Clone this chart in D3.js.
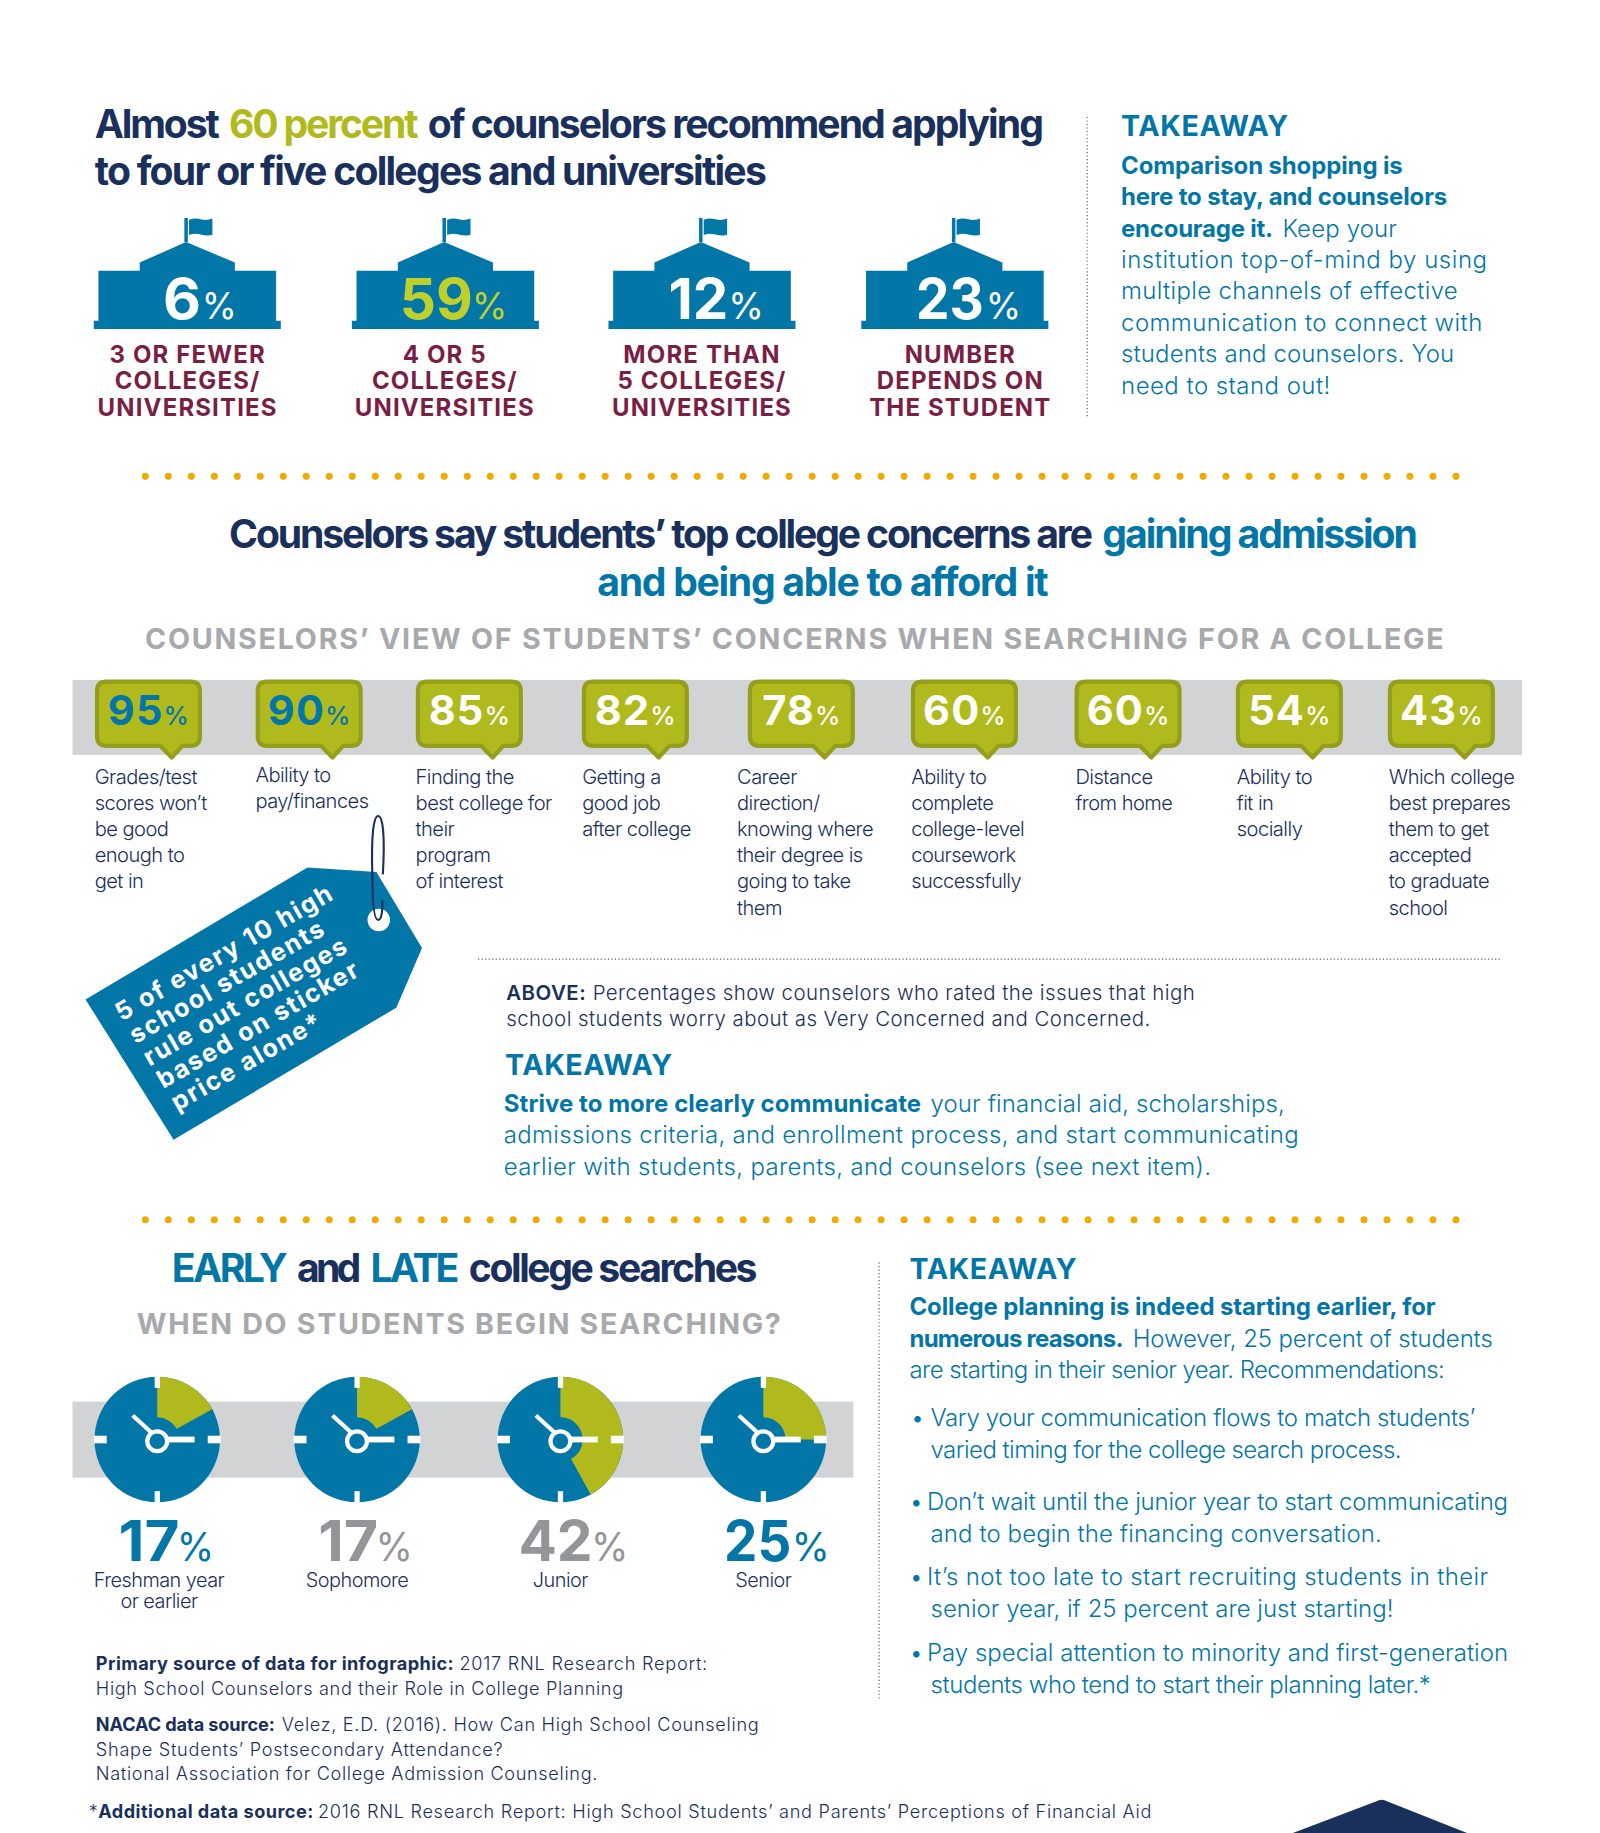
<!DOCTYPE html>
<html><head><meta charset="utf-8">
<script src="https://cdn.jsdelivr.net/npm/d3@7"></script>
<style>html,body{margin:0;background:#fff}svg{display:block}text{font-family:Inter,"Noto Sans",sans-serif;white-space:pre}</style>
</head><body><div id="c"></div>
<script>
// ---------- data ----------
const collegeValues=[6,59,12,23];
const collegeLabels=[["3 OR FEWER","COLLEGES/","UNIVERSITIES"],["4 OR 5","COLLEGES/","UNIVERSITIES"],["MORE THAN","5 COLLEGES/","UNIVERSITIES"],["NUMBER","DEPENDS ON","THE STUDENT"]];
const concernValues=[95,90,85,82,78,60,60,54,43];
const concernLabels=[
 ["Grades/test","scores won’t","be good","enough to","get in"],
 ["Ability to","pay/finances"],
 ["Finding the","best college for","their","program","of interest"],
 ["Getting a","good job","after college"],
 ["Career","direction/","knowing where","their degree is","going to take","them"],
 ["Ability to","complete","college-level","coursework","successfully"],
 ["Distance","from home"],
 ["Ability to","fit in","socially"],
 ["Which college","best prepares","them to get","accepted","to graduate","school"]];
const searchValues=[17,17,42,25];
const searchLabels=[["Freshman year","or earlier"],["Sophomore"],["Junior"],["Senior"]];
const tagLines=["5 of every 10 high","school students","rule out colleges","based on sticker","price alone*"];

// ---------- palette ----------
const NAVY="#1a305c",LIME="#b1ba1d",LIMED="#939f1c",BRIGHT="#bfd02c",BLUE="#0376a8",MAROON="#7b1e45",GRAY="#a7a9ac",GRAY2="#939598",BAND="#d1d3d4",GOLD="#f0ab00";

// ---------- layout scales ----------
const W=1368.7,H=1568;
const svg=d3.select("#c").append("svg").attr("width",1600).attr("height",1833).attr("viewBox",`0 0 ${W} ${H}`).attr("preserveAspectRatio","none");
const collegeIdx=d3.range(collegeValues.length),concernIdx=d3.range(concernValues.length),searchIdx=d3.range(searchValues.length);
const buildingX=d3.scaleOrdinal(collegeIdx,[160.2,381,600.5,816.8]);
const collegeLabelX=d3.scaleOrdinal(collegeIdx,[160.5,380.5,600.5,821.5]);
const collegeNumX=d3.scaleOrdinal(collegeIdx,[[141,170.5,175,200],[343.5,403,406,431.5],[573.3,621.5,625.5,651],[785,840,845.7,871]]);
const bubbleX=d3.scaleOrdinal(concernIdx,[81,218.5,355.5,497.5,639.5,779,919,1057,1187]);
const concernLabelX=d3.scaleOrdinal(concernIdx,[81,218.5,355.5,498,630.5,779.5,920,1058,1188]);
const clockX=d3.scaleOrdinal(searchIdx,[134.5,305.4,479.4,653]);
const searchNumX=d3.scaleOrdinal(searchIdx,[[102.8,152,154.2,180.2],[273.7,322,324.2,350.2],[445,505.5,508.6,534.6],[620.9,675.4,680,706.8]]);
const angle=d3.scaleLinear().domain([0,100]).range([0,2*Math.PI]);

// ---------- helpers ----------
function measure(str,o){
  const t=svg.append("text").text(str).attr("font-size",o.size).attr("font-weight",o.w);
  const n=t.node().getComputedTextLength();t.remove();return n;
}
function lsFor(str,o,target){return (target-measure(str,o))/Math.max(1,str.length-1);}
function seg(x0,x1,y,str,o={}){
  return svg.append("text").attr("x",x0).attr("y",y).text(str)
    .attr("font-size",o.size).attr("font-weight",o.w).attr("fill",o.c)
    .attr("letter-spacing",lsFor(str,o,x1-x0).toFixed(3));
}
function glyph(x0,x1,y,str,o){
  return svg.append("text").attr("x",x0).attr("y",y).text(str)
    .attr("font-size",o.size).attr("font-weight",o.w).attr("fill",o.c)
    .attr("textLength",x1-x0).attr("lengthAdjust","spacingAndGlyphs");
}
function centered(cx,y,str,o,ls){
  return svg.append("text").attr("x",cx).attr("y",y).text(str).attr("text-anchor","middle")
    .attr("font-size",o.size).attr("font-weight",o.w).attr("fill",o.c).attr("letter-spacing",ls.toFixed(3));
}
function dotted(x1,y1,x2,y2){
  svg.append("line").attr("x1",x1).attr("y1",y1).attr("x2",x2).attr("y2",y2)
   .attr("stroke","#58595b").attr("stroke-width",1).attr("stroke-dasharray","1 2");
}
function goldDots(y){
  svg.append("g").selectAll("circle").data(d3.range(58)).join("circle")
   .attr("cx",d=>124.3+d*19.67).attr("cy",y).attr("r",3).attr("fill",GOLD);
}
const H1={size:33.5,w:700,c:NAVY},TK={size:24.5,w:700,c:BLUE},B={size:20.5,w:700,c:BLUE},L={size:20.5,w:300,c:BLUE},
      SUB={size:24.5,w:700,c:GRAY},F={size:15.5,w:300,c:NAVY},FB={size:15.5,w:700,c:NAVY};

// ---------- section 1 ----------
seg(81,188,118,"Almost",H1);
seg(196,358,118,"60 percent",{...H1,c:LIME});
seg(366,893,118,"of counselors recommend applying",H1);
seg(81,656,158.5,"to four or five colleges and universities",H1);

const bG=svg.append("g").selectAll("g").data(collegeValues).join("g").attr("transform",(d,i)=>`translate(${buildingX(i)},0)`);
bG.append("path").attr("fill",BLUE).attr("d","M-80,281.5V274.3H-76V231.6H-40.7V224.6L-1,207L40.7,224.6V231.6H76V274.3H80V281.5Z");
bG.append("rect").attr("x",-2.5).attr("y",186.5).attr("width",3).attr("height",20.5).attr("fill",BLUE);
bG.append("path").attr("fill",BLUE).attr("d","M1.5,188Q6.5,186 11.5,187.5T21.5,187V201Q16.5,202 11.5,200.5T1.5,201Z");
const numS={size:48,w:700},pctS={size:34,w:400};
const mS={size:20.5,w:700,c:MAROON};
const collegeLs=lsFor("UNIVERSITIES",mS,153);
collegeValues.forEach((v,i)=>{
  const [a,b,c,d]=collegeNumX(i),col=v===59?BRIGHT:"#fff";
  glyph(a-1.5,b+1.5,273.2,String(v),{...numS,c:col});
  glyph(c-2.5,d+2.5,273.2,"%",{...pctS,size:32,c:col});
  collegeLabels[i].forEach((s,j)=>{
    centered(collegeLabelX(i),[310.2,333,356][j],s,mS,collegeLs);
  });
});
dotted(930,100,930,356);
seg(959,1102,116.5,"TAKEAWAY",TK);
seg(959,1200,149,"Comparison shopping is",B);
seg(959,1238,175.5,"here to stay, and counselors",B);
seg(959,1089,202.5,"encourage it.",B);
seg(1097,1195,202.5,"Keep your",L);
seg(959,1272,229.5,"institution top-of-mind by using",L);
seg(959,1247,256,"multiple channels of effective",L);
seg(959,1268,283,"communication to connect with",L);
seg(959,1244,309.5,"students and counselors. You",L);
seg(959,1138,337,"need to stand out!",L);

goldDots(407.5);

// ---------- section 2 ----------
seg(196,935,469,"Counselors say students’ top college concerns are",H1);
seg(943,1213,469,"gaining admission",{...H1,c:BLUE});
seg(511,897,510,"and being able to afford it",{...H1,c:BLUE});
seg(124,1235,555,"COUNSELORS’ VIEW OF STUDENTS’ CONCERNS WHEN SEARCHING FOR A COLLEGE",SUB);
svg.append("rect").attr("x",62).attr("y",581.6).attr("width",1240).attr("height",64.2).attr("fill",BAND);

const bubW=92;
const cG=svg.append("g").selectAll("g").data(concernValues).join("g").attr("transform",(d,i)=>`translate(${bubbleX(i)},0)`);
cG.append("path").attr("fill",LIME).attr("stroke",LIMED).attr("stroke-width",3.6).attr("stroke-linejoin","round")
  .attr("d",`M10,583H${bubW-10}Q${bubW-2},583 ${bubW-2},591V630Q${bubW-2},638 ${bubW-10},638H75L65.9,648L56,638H10Q2,638 2,630V591Q2,583 10,583Z`);
const bT=cG.append("text").attr("x",bubW/2).attr("y",620.3).attr("text-anchor","middle").attr("fill",(d,i)=>i<2?BLUE:"#fff");
bT.append("tspan").attr("font-size",35.5).attr("font-weight",700).attr("letter-spacing",1).text(d=>d);
bT.append("tspan").attr("font-size",22).attr("font-weight",500).attr("dx",0).text("%");
const lS={size:17.2,w:300,c:NAVY};
const labelLs=lsFor("best college for",lS,117);
concernLabels.forEach((ls,i)=>{
  const off=i===1?-2.2:0;
  ls.forEach((s,j)=>{
    svg.append("text").attr("x",concernLabelX(i)).attr("y",670.8+off+j*22.3).text(s)
      .attr("font-size",lS.size).attr("font-weight",lS.w).attr("fill",NAVY).attr("letter-spacing",labelLs.toFixed(3));
  });
});
// tag
svg.append("path").attr("fill",BLUE).attr("d","M263,742L322,746L361,811L339,862L148.5,975L73.2,855Z");
svg.append("ellipse").attr("cx",324).attr("cy",787).attr("rx",9.6).attr("ry",9.6).attr("fill","#fff");
svg.append("path").attr("fill","none").attr("stroke",NAVY).attr("stroke-width",1.8)
  .attr("d","M327.5,748C329.5,715 327.5,698 323.5,698C319.5,698 317.5,715 318.5,748C318.5,770 319.5,787 323.5,787C326.5,787 327.5,778 327,770");
const tagG=svg.append("g").attr("transform","translate(104,874) rotate(-30)");
const tagS={size:21.5,w:700};
const tagLs=lsFor(tagLines[0],tagS,210);
tagLines.forEach((s,j)=>{
  tagG.append("text").attr("x",j*0.7).attr("y",j*22.6).text(s).attr("font-size",tagS.size).attr("font-weight",tagS.w).attr("fill","#fff").attr("letter-spacing",tagLs.toFixed(3));
});
dotted(409,820.5,1285,820.5);
const A={size:17.5,w:300,c:NAVY};
seg(433,501,855.5,"ABOVE:",{...A,w:600});
seg(507,1022,855.5,"Percentages show counselors who rated the issues that high",A);
seg(433,984,877.5,"school students worry about as Very Concerned and Concerned.",A);
seg(432,575,919.5,"TAKEAWAY",TK);
seg(431,788,951,"Strive to more clearly communicate",B);
seg(796,1099,951,"your financial aid, scholarships,",L);
seg(431,1111,978,"admissions criteria, and enrollment process, and start communicating",L);
seg(431,1036,1005,"earlier with students, parents, and counselors (see next item).",L);

goldDots(1043.5);

// ---------- section 3 ----------
seg(147,246,1097,"EARLY",{...H1,c:BLUE});
seg(254,309,1097,"and",H1);
seg(317,393,1097,"LATE",{...H1,c:BLUE});
seg(401,648,1097,"college searches",H1);
seg(117,668,1141.5,"WHEN DO STUDENTS BEGIN SEARCHING?",SUB);
svg.append("rect").attr("x",62).attr("y",1199).attr("width",668).attr("height",65).attr("fill",BAND);

const clockY=1231.4,R=53.7;
const ck=svg.append("g").selectAll("g").data(searchValues).join("g").attr("transform",(d,i)=>`translate(${clockX(i)},${clockY})`);
ck.append("circle").attr("r",R).attr("fill",BLUE);
const arc=d3.arc().innerRadius(19).outerRadius(R).startAngle(0);
ck.append("path").attr("fill",LIME).attr("d",d=>arc({endAngle:angle(d)}));
[[-2.2,-R-.5,4.5,10],[-2.2,R-9.5,4.5,10],[-R-.5,-3.25,11,6.5],[R-10.5,-3.25,11,6.5]].forEach(r=>{
  ck.append("rect").attr("x",r[0]).attr("y",r[1]).attr("width",r[2]).attr("height",r[3]).attr("fill","#fff");
});
ck.append("line").attr("x1",8).attr("y1",0).attr("x2",32).attr("y2",0).attr("stroke","#fff").attr("stroke-width",5);
ck.append("line").attr("x1",-5).attr("y1",-6).attr("x2",-21).attr("y2",-20.5).attr("stroke","#fff").attr("stroke-width",3.6);
ck.append("circle").attr("cy",1.5).attr("r",8.5).attr("fill",BLUE).attr("stroke","#fff").attr("stroke-width",3.6);
const capS={size:17,w:300,c:NAVY};
const capLs=lsFor("Freshman year",capS,112);
searchValues.forEach((v,i)=>{
  const [a,b,c,d]=searchNumX(i),col=(i===1||i===2)?GRAY2:BLUE;
  glyph(a-1.5,b+1.5,1335,String(v),{...numS,c:col});
  glyph(c-3,d+3,1335,"%",{...pctS,c:col});
  searchLabels[i].forEach((s,j)=>{
    centered(i===0?136:clockX(i),1357.3+j*18,s,capS,capLs);
  });
});
dotted(752,1080,752,1453);
seg(778,921,1094,"TAKEAWAY",TK);
seg(778,1228,1125,"College planning is indeed starting earlier, for",B);
seg(778,961,1152,"numerous reasons.",B);
seg(969,1277,1152,"However, 25 percent of students",L);
seg(778,1236,1179,"are starting in their senior year. Recommendations:",L);
seg(779,787,1220,"•",L);
seg(796,1262,1220,"Vary your communication flows to match students’",L);
seg(796,1199,1247,"varied timing for the college search process.",L);
seg(778,786,1292,"•",L);
seg(793,1290,1292,"Don’t wait until the junior year to start communicating",L);
seg(796,1182,1319,"and to begin the financing conversation.",L);
seg(778,786,1356,"•",L);
seg(793,1273,1356,"It’s not too late to start recruiting students in their",L);
seg(796,1192,1383,"senior year, if 25 percent are just starting!",L);
seg(778,786,1421,"•",L);
seg(793,1290,1421,"Pay special attention to minority and first-generation",L);
seg(796,1224,1448,"students who tend to start their planning later.*",L);

// ---------- sources ----------
seg(82,388,1428.5,"Primary source of data for infographic:",FB);
seg(393,605,1428.5,"2017 RNL Research Report:",F);
seg(82,533,1450,"High School Counselors and their Role in College Planning",F);
seg(82,235,1481,"NACAC data source:",FB);
seg(241,649,1481,"Velez, E.D. (2016). How Can High School Counseling",F);
seg(82,430,1502,"Shape Students’ Postsecondary Attendance?",F);
seg(82,511,1523,"National Association for College Admission Counseling.",F);
seg(76,83,1555,"*",F);
seg(84,268,1555,"Additional data source:",FB);
seg(272,985,1555,"2016 RNL Research Report: High School Students’ and Parents’ Perceptions of Financial Aid",F);
svg.append("path").attr("fill",NAVY).attr("d","M1106,1568L1177,1541Q1182,1538 1187,1541L1255,1568Z");
</script></body></html>
